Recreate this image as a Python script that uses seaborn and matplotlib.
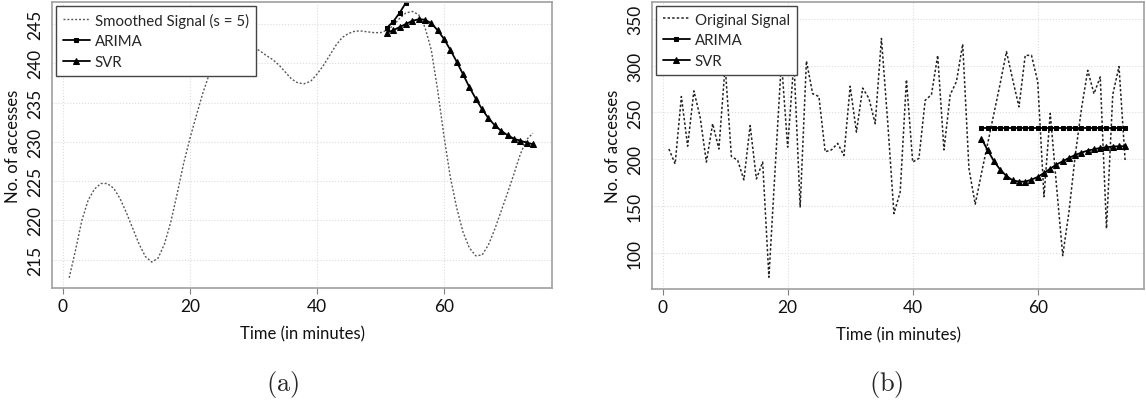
import matplotlib
matplotlib.use("Agg")
import matplotlib.pyplot as plt
import seaborn as sns

# ---------------- data ----------------
minutes = list(range(1, 75))

smoothed_a = [212.7, 216.2, 220.0, 222.6, 224.0, 224.7, 224.7, 224.1, 222.8, 221.0,
              219.0, 217.0, 215.4, 214.7, 215.2, 217.0, 219.8, 223.4, 227.2, 230.4,
              233.3, 236.1, 238.5, 240.2, 241.4, 242.1, 242.4, 242.4, 242.2, 242.0,
              241.6, 241.0, 240.5, 239.8, 238.9, 238.0, 237.5, 237.4, 237.7, 238.6,
              239.7, 241.0, 242.3, 243.3, 243.8, 244.1, 244.1, 244.0, 243.9, 243.9,
              244.2, 244.8, 245.7, 246.4, 246.6, 246.2, 244.6, 241.7, 236.6, 230.7,
              225.5, 221.6, 218.5, 216.5, 215.5, 215.6, 216.9, 218.9, 221.2, 223.5,
              225.9, 228.4, 230.3, 231.1]

original_b = [211, 195, 267, 214, 273, 245, 197, 238, 211, 300,
              203, 199, 178, 236, 179, 197, 74, 190, 305, 213,
              305, 149, 305, 270, 267, 208, 210, 217, 204, 278,
              229, 276, 265, 238, 329, 240, 142, 165, 285, 197,
              201, 263, 269, 311, 210, 269, 283, 323, 190, 152,
              185, 217, 249, 281, 315, 285, 256, 311, 311, 283,
              160, 249, 172, 97, 144, 204, 254, 295, 270, 288,
              126, 269, 299, 197]

forecast_minutes = list(range(51, 75))

arima_a_minutes = [51, 52, 53, 54, 55, 56]
arima_a = [244.5, 245.3, 246.4, 247.7, 249.0, 250.3]

svr_a = [243.9, 244.2, 244.6, 245.0, 245.4, 245.6, 245.55, 245.1, 244.2, 243.1,
         241.7, 240.2, 238.6, 236.95, 235.5, 234.15, 233.0, 232.1, 231.4, 230.85,
         230.4, 230.15, 229.9, 229.7]

arima_b = [233.6, 233.6, 233.6, 233.6, 233.6, 233.6, 233.6, 233.6, 233.6, 233.6,
           233.6, 233.6, 233.6, 233.6, 233.6, 233.6, 233.6, 233.6, 233.6, 233.6,
           233.6, 233.6, 233.6, 233.6]

svr_b = [222.1, 209.6, 197.9, 188.9, 182.1, 177.5, 176.1, 176.1, 178.2, 181.1,
         185.4, 190.0, 194.3, 197.9, 201.4, 204.6, 207.1, 209.3, 210.7, 212.1,
         212.9, 213.6, 213.9, 213.9]

x_ticks = [0, 20, 40, 60]
y_ticks_a = [215, 220, 225, 230, 235, 240, 245]
y_ticks_b = [100, 150, 200, 250, 300, 350]

# ---------------- style ----------------
sns.set_style("whitegrid")
plt.rcParams['font.family'] = ['Lato', 'DejaVu Sans']
plt.rcParams['mathtext.fontset'] = 'cm'

W, H = 1146, 410
fig = plt.figure(figsize=(W / 100, H / 100), dpi=100)
ax_a = fig.add_axes([52 / W, 1 - 289 / H, 500 / W, 286 / H])
ax_b = fig.add_axes([652 / W, 1 - 290 / H, 492 / W, 287 / H])

sig_a_style = dict(color='#555555', lw=1.0, linestyle=(0, (1.4, 1.4)))
sig_b_style = dict(color='#222222', lw=1.1, linestyle=(0, (1.6, 1.4)))
arima_style = dict(color='black', lw=1.3, marker='s', markersize=3.2,
                   markeredgecolor='black', markerfacecolor='black')
svr_style = dict(color='black', lw=1.3, marker='^', markersize=4.2,
                 markeredgecolor='black', markerfacecolor='black')

# panel (a)
sns.lineplot(x=minutes, y=smoothed_a, ax=ax_a, label='Smoothed Signal (s = 5)', **sig_a_style)
sns.lineplot(x=arima_a_minutes, y=arima_a, ax=ax_a, label='ARIMA', **arima_style)
sns.lineplot(x=forecast_minutes, y=svr_a, ax=ax_a, label='SVR', **svr_style)
ax_a.set_ylim(211.4, 247.8)
ax_a.set_yticks(y_ticks_a)

# panel (b)
sns.lineplot(x=minutes, y=original_b, ax=ax_b, label='Original Signal', **sig_b_style)
sns.lineplot(x=forecast_minutes, y=arima_b, ax=ax_b, label='ARIMA', **arima_style)
sns.lineplot(x=forecast_minutes, y=svr_b, ax=ax_b, label='SVR', **svr_style)
ax_b.set_ylim(61.4, 368)
ax_b.set_yticks(y_ticks_b)

for ax in (ax_a, ax_b):
    ax.set_xlim(-1.7, 77.0)
    ax.set_xticks(x_ticks)
    ax.grid(True, color='#dcdcdc', linestyle=':', linewidth=0.8)
    for sp in ax.spines.values():
        sp.set_color('#a0a0a0')
        sp.set_linewidth(1.2)
    ax.tick_params(axis='x', which='major', bottom=True, length=4, width=0.8,
                   color='#808080', labelsize=12.5, pad=3, labelcolor='#111111')
    ax.tick_params(axis='y', which='major', left=False, labelsize=12.5, pad=3,
                   labelcolor='#111111')
    for lbl in ax.get_yticklabels():
        lbl.set_rotation(90)
        lbl.set_va('center')
    ax.set_xlabel('Time (in minutes)', fontsize=12, labelpad=8, color='#111111')
    ax.set_ylabel('No. of accesses', fontsize=12, labelpad=4, color='#111111')
    leg = ax.legend(loc='upper left', bbox_to_anchor=(0, 1), borderaxespad=0.25,
                    fancybox=False, framealpha=1, edgecolor='#444444',
                    fontsize=10.8, handlelength=1.8, handletextpad=0.35,
                    labelspacing=0.45, borderpad=0.45)
    leg.get_frame().set_linewidth(1.0)

fig.text(283 / W, 1 - 385 / H, r'$\mathrm{(a)}$', ha='center', va='center', fontsize=19)
fig.text(886 / W, 1 - 385 / H, r'$\mathrm{(b)}$', ha='center', va='center', fontsize=19)

fig.savefig('out.png', dpi=100)
